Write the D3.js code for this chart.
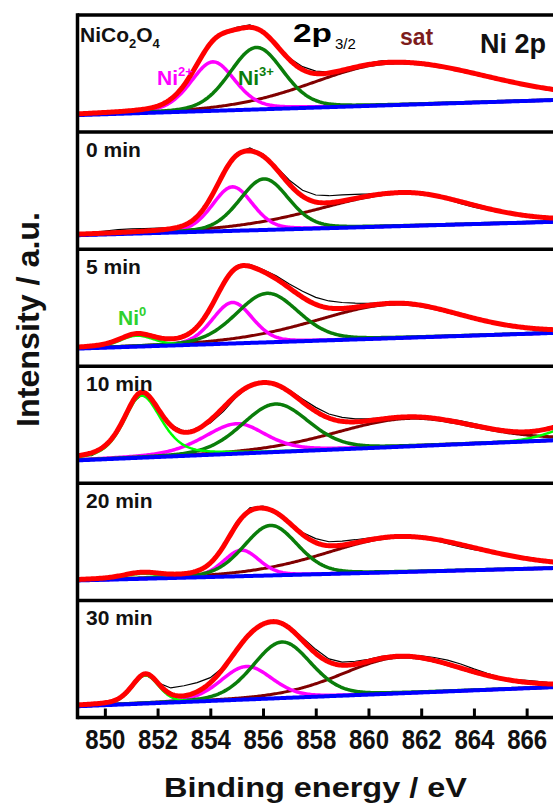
<!DOCTYPE html>
<html><head><meta charset="utf-8">
<script src="https://cdn.jsdelivr.net/npm/d3@7"></script>
<style>
body{margin:0;background:#fff}
svg{display:block}
text{font-family:Arial,"Liberation Sans",Helvetica,sans-serif}
</style>
</head><body>
<svg id="c" width="553" height="803"></svg>
<script>
// ---------------- DATA ----------------
const panelLabels = ["NiCo2O4", "0 min", "5 min", "10 min", "20 min", "30 min"];
const xTicks = [850, 852, 854, 856, 858, 860, 862, 864, 866];
const xDomain = [849, 867];
// linear background: intensity at 849 eV and at 867 eV
const baseStart = [17, 14, 17.7, 23, 20, 11.3];
const baseEnd   = [32, 27.3, 33.3, 43, 32.3, 30.3];
// fitted components: [centre eV, height, FWHM left, FWHM right, Lorentz fraction]
const ni0Peak = [null, null, [851.2, 11, 1.5, 1.6, 0.4], [851.39, 62, 1.6, 1.8, 0.5], [851.4, 5, 1.6, 1.6, 0.3], [851.54, 28, 1.2, 1.2, 0.3]];
const ni0Sat  = [null, null, null, [868.0, 14, 2.5, 2.5, 0.2], null, null];
const ni2Peak = [[854.1, 49, 2.0, 2.0, 0.3], [854.84, 44, 1.8, 1.8, 0.2], [854.84, 41, 1.8, 1.8, 0.2], [855.01, 30, 3.0, 2.6, 0.4], [855.18, 26, 1.6, 1.6, 0.2], [855.37, 33, 2.3, 2.3, 0.2]];
const ni3Peak = [[855.75, 62, 2.4, 2.4, 0.2], [856.04, 51, 2.2, 2.2, 0.2], [856.16, 49, 2.8, 2.8, 0.2], [856.47, 48, 3.0, 3.0, 0.2], [856.29, 50, 2.4, 2.4, 0.2], [856.72, 56, 2.6, 2.6, 0.2]];
const satPeak = [[860.9, 42, 7.0, 8.5, 0.1], [861.3, 33, 7.4, 6.0, 0.2], [861.0, 34, 7.0, 6.0, 0.2], [861.5, 28, 6.5, 6.0, 0.2], [861.2, 35, 6.6, 7.0, 0.2], [861.2, 36, 5.2, 5.6, 0.2]];
// measured spectrum: offset from the fit envelope, every 0.5 eV from 849 to 867 eV
const expEnergy = d3.range(849, 867.01, 0.5);
const expOffset = [
  [0,0.5,0,0.5,0,0,0,0.5,0,0,0.5,1,2,2.5,1.5,1,1.5,3,2.5,1,0.5,1,1.5,2,1.5,1,0.5,0,0.5,0,0.5,0,0.5,0,1,0.5,0],
  [0,1,2,3,3,2.5,2,1,0,-1,0,1,2,3,2,2,4,6,7,7,6,4,2,1,0.5,0,0,-0.5,-1,-2,-2,-1.5,-1,-0.5,0,0,0],
  [0,0,0.5,1,0.5,0,0,0,0,0,0.5,1,2,2,2,3,4,6,7,7,6,4,2,1,0.5,0,0,0,0,0,0,0,0,0.5,1,1,1],
  [0,-3,-2,-1,0,0,0,0.5,1,0,-3,-4,-2,0,1,1.5,2,3,4,4,4,3,2,1,0.5,0,0.5,1,1.5,2,2,1.5,1,0.5,0,0,0],
  [0,0,0,0,0,0,0,0,0,0,0.5,1.5,3,3,2,1,1,2,4,4,4,3,2,1,0.5,0,-0.5,-1,-2,-2.5,-2,-1,0,0,0,0,0],
  [0,0,0,0,0,0,0,6,10,9,5,1,0,0,0,1,2,3,4,3,3,3,2,2,1,1,2,3,4,4,3,2,1,1,2,2,1]
];

// ---------------- LAYOUT ----------------
const svg = d3.select("#c");
const L = 77.5, R = 554.5, T = 15, B = 717.5;
const nP = 6, pH = (B - T) / nP;
const x = d3.scaleLinear().domain(xDomain).range([78.5, 553]);
const grid = d3.range(848.5, 867.6, 0.05);

function profile(E, c) {
  if (!c) return 0;
  const [c0, a, wl, wr, eta] = c;
  const h = (E < c0 ? wl : wr) / 2;
  const t = (E - c0) / h;
  return a * ((1 - eta) * Math.exp(-Math.LN2 * t * t) + eta / (1 + t * t));
}

const defs = svg.append("defs");
defs.append("clipPath").attr("id", "plotclip").append("rect")
  .attr("x", L).attr("y", T).attr("width", R - L).attr("height", B - T);

const colors = {exp: "#000", sat: "#800000", ni2: "#ff00ff", ni3: "#0a7d0a", ni0: "#00ff00", base: "#0000ff", env: "#ff0000"};

for (let p = 0; p < nP; p++) {
  const top = T + p * pH, bottom = top + pH;
  const y = d3.scaleLinear().domain([0, pH]).range([bottom, top]);
  const base = E => baseStart[p] + (baseEnd[p] - baseStart[p]) * (E - xDomain[0]) / (xDomain[1] - xDomain[0]);
  const comps = [ni0Peak[p], ni0Sat[p], ni2Peak[p], ni3Peak[p], satPeak[p]];
  const env = E => base(E) + d3.sum(comps, c => profile(E, c));
  const line = d3.line().x(d => x(d[0])).y(d => y(d[1]));
  const g = svg.append("g").attr("clip-path", "url(#plotclip)");

  // measured spectrum
  g.append("path")
    .attr("d", line(expEnergy.map((E, i) => [E, env(E) + expOffset[p][i]])))
    .attr("fill", "none").attr("stroke", colors.exp).attr("stroke-width", 1.2);

  const drawComp = (c, col, w) => {
    if (!c) return;
    g.append("path").attr("d", line(grid.map(E => [E, base(E) + profile(E, c)])))
      .attr("fill", "none").attr("stroke", col).attr("stroke-width", w).attr("stroke-linejoin", "round");
  };
  drawComp(satPeak[p], colors.sat, 3);
  drawComp(ni2Peak[p], colors.ni2, 3.5);
  drawComp(ni3Peak[p], colors.ni3, 3.5);
  drawComp(ni0Peak[p], colors.ni0, 2.5);
  drawComp(ni0Sat[p], colors.ni0, 2.5);
  // background
  g.append("path").attr("d", line(grid.map(E => [E, base(E)])))
    .attr("fill", "none").attr("stroke", colors.base).attr("stroke-width", 4);
  // envelope
  g.append("path").attr("d", line(grid.map(E => [E, env(E)])))
    .attr("fill", "none").attr("stroke", colors.env).attr("stroke-width", 5).attr("stroke-linejoin", "round");

  // panel label
  if (p === 0) {
    const t = svg.append("text").attr("x", 80).attr("y", top + 27)
      .attr("font-size", 21).attr("font-weight", "bold").attr("fill", "#111");
    t.append("tspan").text("NiCo");
    t.append("tspan").text("2").attr("font-size", 13).attr("dy", 6);
    t.append("tspan").text("O").attr("dy", -6);
    t.append("tspan").text("4").attr("font-size", 13).attr("dy", 6);
  } else {
    svg.append("text").attr("x", 86).attr("y", top + 25)
      .attr("font-size", 21).attr("font-weight", "bold").attr("fill", "#111").text(panelLabels[p]);
  }
  // divider
  if (p > 0) svg.append("line").attr("x1", L).attr("x2", R).attr("y1", top).attr("y2", top)
    .attr("stroke", "#000").attr("stroke-width", 3.5);
}

// annotations in the top panel
svg.append("text").attr("x", 293).attr("y", 42).attr("font-size", 25).attr("font-weight", "bold")
  .attr("textLength", 39).attr("lengthAdjust", "spacingAndGlyphs").text("2p");
svg.append("text").attr("x", 335).attr("y", 49).attr("font-size", 15).text("3/2");
svg.append("text").attr("x", 400).attr("y", 45).attr("font-size", 23).attr("font-weight", "bold")
  .attr("fill", "#7d1c1c").text("sat");
svg.append("text").attr("x", 480).attr("y", 53).attr("font-size", 27).attr("font-weight", "bold")
  .attr("fill", "#111").text("Ni 2p");
function ionLabel(xp, yp, sup, col) {
  const t = svg.append("text").attr("x", xp).attr("y", yp).attr("font-size", 21)
    .attr("font-weight", "bold").attr("fill", col);
  t.append("tspan").text("Ni");
  t.append("tspan").text(sup).attr("font-size", 13).attr("dy", -9);
}
ionLabel(157, 85, "2+", colors.ni2);
ionLabel(238, 85, "3+", colors.ni3);
ionLabel(118, T + 2 * pH + 76, "0", "#2ed12e");

// frame
svg.append("line").attr("x1", L).attr("x2", L).attr("y1", T - 1.75).attr("y2", B + 1.75)
  .attr("stroke", "#000").attr("stroke-width", 3.5);
svg.append("line").attr("x1", L).attr("x2", R).attr("y1", T).attr("y2", T)
  .attr("stroke", "#000").attr("stroke-width", 3.5);

// bottom axis
const ax = svg.append("g").attr("transform", `translate(0,${B})`)
  .call(d3.axisBottom(x).tickValues(xTicks).tickSize(-9).tickSizeOuter(0).tickPadding(12).tickFormat(d3.format("d")));
ax.select(".domain").attr("stroke", "#000").attr("stroke-width", 3.5).attr("d", `M${L},0H${R}`);
ax.selectAll(".tick line").attr("stroke", "#000").attr("stroke-width", 3);
ax.selectAll(".tick text").attr("font-size", 27).attr("font-weight", "bold").attr("fill", "#111")
  .attr("font-family", "Arial,'Liberation Sans',sans-serif")
  .attr("textLength", 40).attr("lengthAdjust", "spacingAndGlyphs");

// axis titles
svg.append("text").attr("x", 315.5).attr("y", 797).attr("text-anchor", "middle")
  .attr("font-size", 28).attr("font-weight", "bold").attr("fill", "#111")
  .attr("textLength", 303).attr("lengthAdjust", "spacingAndGlyphs").text("Binding energy / eV");
svg.append("text").attr("transform", "translate(39,319.5) rotate(-90)").attr("text-anchor", "middle")
  .attr("font-size", 31).attr("font-weight", "bold").attr("fill", "#111")
  .attr("textLength", 215).attr("lengthAdjust", "spacingAndGlyphs").text("Intensity / a.u.");
</script>
</body></html>
